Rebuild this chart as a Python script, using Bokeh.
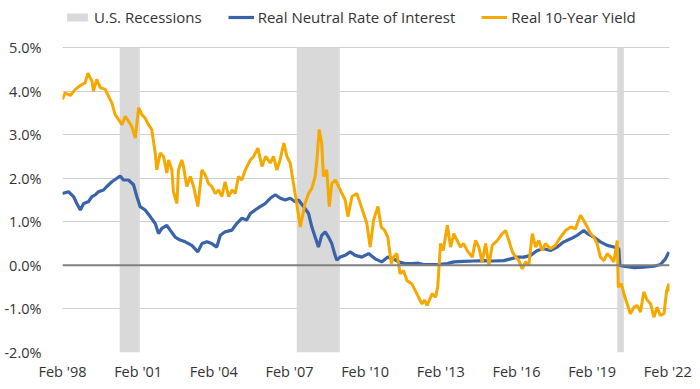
from bokeh.plotting import figure
from bokeh.models import (Range1d, FixedTicker, PrintfTickFormatter, Legend, LegendItem, Span)
from bokeh.embed import file_html
from bokeh.resources import INLINE

# ---- data (x in decimal years) ----
rec_start = [2000.35, 2007.37, 2020.08]
rec_end = [2001.15, 2009.08, 2020.34]

neutral_x = [1998.08, 1998.32, 1998.52, 1998.65, 1998.79, 1998.92, 1999.11, 1999.25, 1999.38, 1999.51,
             1999.71, 1999.84, 2000.04, 2000.24, 2000.37, 2000.50, 2000.70, 2000.90, 2001.03, 2001.16,
             2001.36, 2001.56, 2001.76, 2001.89, 2002.02, 2002.22, 2002.35, 2002.55, 2002.75, 2002.95,
             2003.21, 2003.45, 2003.61, 2003.81, 2004.00, 2004.20, 2004.34, 2004.53, 2004.80, 2004.99,
             2005.19, 2005.39, 2005.53, 2005.72, 2005.92, 2006.12, 2006.32, 2006.52, 2006.72, 2006.91,
             2007.11, 2007.31, 2007.44, 2007.64, 2007.84, 2007.97, 2008.10, 2008.23, 2008.36, 2008.50,
             2008.63, 2008.76, 2008.87, 2008.96, 2009.09, 2009.29, 2009.49, 2009.69, 2009.95, 2010.22,
             2010.48, 2010.74, 2010.98, 2011.21, 2011.41, 2011.67, 2011.93, 2012.20, 2012.40, 2012.54,
             2012.94, 2013.34, 2013.60, 2013.99, 2014.39, 2014.79, 2015.18, 2015.58, 2015.85, 2016.11,
             2016.38, 2016.64, 2016.91, 2017.17, 2017.43, 2017.70, 2017.96, 2018.23, 2018.49, 2018.75,
             2018.89, 2019.15, 2019.41, 2019.68, 2019.94, 2020.14, 2020.18, 2020.34, 2020.74, 2021.13,
             2021.53, 2021.79, 2021.99, 2022.13]
neutral_y = [1.65, 1.69, 1.58, 1.42, 1.27, 1.42, 1.46, 1.58, 1.62, 1.69,
             1.73, 1.81, 1.92, 2.00, 2.05, 1.96, 1.96, 1.85, 1.58, 1.35,
             1.27, 1.12, 0.96, 0.73, 0.85, 0.92, 0.81, 0.65, 0.58, 0.54,
             0.46, 0.31, 0.50, 0.54, 0.50, 0.42, 0.69, 0.77, 0.81, 0.96,
             1.08, 1.04, 1.19, 1.27, 1.35, 1.42, 1.54, 1.62, 1.54, 1.50,
             1.54, 1.46, 1.50, 1.35, 1.19, 0.88, 0.65, 0.42, 0.69, 0.77,
             0.65, 0.50, 0.27, 0.12, 0.19, 0.23, 0.31, 0.23, 0.19, 0.27,
             0.15, 0.08, 0.19, 0.15, 0.08, 0.04, 0.04, 0.05, 0.02, 0.02,
             0.02, 0.04, 0.08, 0.09, 0.10, 0.11, 0.10, 0.11, 0.15, 0.19,
             0.19, 0.23, 0.34, 0.38, 0.34, 0.42, 0.54, 0.61, 0.69, 0.80,
             0.73, 0.65, 0.54, 0.46, 0.42, 0.38, 0.00, -0.02, -0.05, -0.04,
             -0.02, 0.02, 0.15, 0.31]

yield_x = [1998.08, 1998.19, 1998.39, 1998.59, 1998.85, 1998.98, 1999.09, 1999.25, 1999.31, 1999.44,
           1999.58, 1999.78, 1999.91, 2000.04, 2000.17, 2000.30, 2000.44, 2000.57, 2000.70, 2000.83,
           2000.97, 2001.10, 2001.23, 2001.36, 2001.49, 2001.62, 2001.76, 2001.82, 2001.96, 2002.09,
           2002.22, 2002.29, 2002.42, 2002.48, 2002.62, 2002.68, 2002.81, 2002.88, 2003.01, 2003.15,
           2003.28, 2003.45, 2003.61, 2003.74, 2003.87, 2004.00, 2004.14, 2004.27, 2004.40, 2004.53,
           2004.67, 2004.80, 2004.93, 2005.06, 2005.19, 2005.33, 2005.53, 2005.66, 2005.83, 2005.99,
           2006.14, 2006.32, 2006.45, 2006.58, 2006.71, 2006.86, 2006.98, 2007.11, 2007.24, 2007.37,
           2007.51, 2007.70, 2007.84, 2007.97, 2008.10, 2008.17, 2008.26, 2008.36, 2008.43, 2008.56,
           2008.66, 2008.76, 2008.90, 2009.03, 2009.16, 2009.29, 2009.40, 2009.56, 2009.75, 2009.89,
           2010.02, 2010.15, 2010.28, 2010.42, 2010.59, 2010.72, 2010.85, 2010.98, 2011.12, 2011.21,
           2011.34, 2011.47, 2011.60, 2011.74, 2011.93, 2012.07, 2012.20, 2012.33, 2012.44, 2012.54,
           2012.74, 2012.87, 2012.96, 2013.07, 2013.18, 2013.34, 2013.47, 2013.60, 2013.73, 2013.86,
           2013.99, 2014.13, 2014.33, 2014.46, 2014.59, 2014.72, 2014.86, 2014.99, 2015.12, 2015.32,
           2015.52, 2015.65, 2015.78, 2015.92, 2016.05, 2016.18, 2016.31, 2016.44, 2016.57, 2016.71,
           2016.84, 2016.97, 2017.10, 2017.23, 2017.43, 2017.63, 2017.83, 2018.03, 2018.23, 2018.42,
           2018.62, 2018.75, 2018.89, 2019.02, 2019.15, 2019.28, 2019.41, 2019.55, 2019.68, 2019.81,
           2019.94, 2020.08, 2020.12, 2020.24, 2020.34, 2020.47, 2020.60, 2020.74, 2020.87, 2021.00,
           2021.13, 2021.27, 2021.40, 2021.53, 2021.66, 2021.79, 2021.93, 2022.04, 2022.13, 2022.16]
yield_y = [3.81, 3.96, 3.90, 4.04, 4.15, 4.19, 4.41, 4.23, 4.00, 4.27,
           4.08, 4.04, 3.88, 3.73, 3.46, 3.35, 3.23, 3.42, 3.31, 3.19,
           2.92, 3.62, 3.46, 3.38, 3.23, 3.12, 2.58, 2.19, 2.58, 2.50,
           2.12, 2.42, 2.19, 1.69, 1.42, 2.19, 2.42, 2.27, 1.81, 2.04,
           1.81, 1.35, 2.19, 2.08, 1.88, 1.81, 1.65, 1.73, 1.58, 1.92,
           1.58, 1.73, 1.65, 2.04, 1.96, 2.19, 2.42, 2.50, 2.69, 2.27,
           2.50, 2.35, 2.50, 2.19, 2.42, 2.81, 2.50, 2.35, 1.88, 1.42,
           0.88, 1.42, 1.65, 1.77, 2.04, 2.42, 3.12, 2.81, 2.04, 2.19,
           1.35, 1.88, 1.96, 1.81, 1.65, 1.50, 1.12, 1.58, 1.65, 1.42,
           1.19, 0.96, 0.42, 1.04, 1.35, 0.88, 0.81, 0.65, 0.04, 0.19,
           0.27, -0.19, -0.12, -0.35, -0.42, -0.58, -0.73, -0.88, -0.80, -0.92,
           -0.65, -0.73, -0.50, 0.50, 0.34, 0.92, 0.42, 0.73, 0.57, 0.42,
           0.50, 0.34, 0.19, 0.57, 0.42, 0.08, 0.50, 0.00, 0.46, 0.57,
           0.73, 0.80, 0.57, 0.31, 0.19, 0.11, -0.08, 0.08, 0.00, 0.73,
           0.42, 0.57, 0.34, 0.50, 0.38, 0.46, 0.65, 0.80, 0.88, 0.84,
           1.15, 1.03, 0.88, 0.73, 0.65, 0.50, 0.19, 0.11, 0.27, 0.19,
           0.08, 0.57, -0.50, -0.42, -0.65, -0.88, -1.11, -0.96, -0.92, -1.07,
           -0.61, -0.80, -0.88, -1.19, -0.96, -1.15, -1.11, -0.57, -0.42, -0.60]

x_ticks = [1998.083 + 3 * i for i in range(9)]
x_labels = ["Feb '98", "Feb '01", "Feb '04", "Feb '07", "Feb '10", "Feb '13", "Feb '16", "Feb '19", "Feb '22"]
y_ticks = [-2, -1, 0, 1, 2, 3, 4, 5]

FONT = "Open Sans"
TXT = "#333333"
BLUE = "#3b63a8"
ORANGE = "#f5a800"
REC = "#d9d9d9"

# frame spans the full height so the legend can sit inside it above the 5% line
p = figure(width=700, height=389, output_backend="svg", toolbar_location=None,
           x_range=Range1d(1998.083, 2022.15), y_range=Range1d(-2, 6.08),
           min_border_left=62, min_border_right=31, min_border_top=0, min_border_bottom=37)
p.outline_line_color = None
p.background_fill_color = "white"
p.border_fill_color = "white"

rec = p.quad(left=rec_start, right=rec_end, bottom=min(y_ticks), top=max(y_ticks),
             fill_color=REC, line_color=None)
zero = Span(location=0, dimension="width", line_color="#808080", line_width=2)
p.add_layout(zero)
blue = p.line(neutral_x, neutral_y, line_color=BLUE, line_width=3.2)
orange = p.line(yield_x, yield_y, line_color=ORANGE, line_width=3)

p.xaxis.ticker = FixedTicker(ticks=x_ticks)
p.xaxis.major_label_overrides = {t: l for t, l in zip(x_ticks, x_labels)}
p.yaxis.ticker = FixedTicker(ticks=y_ticks)
p.yaxis.formatter = PrintfTickFormatter(format="%.1f%%")
for ax in (p.xaxis[0], p.yaxis[0]):
    ax.axis_line_color = None
    ax.major_tick_line_color = None
    ax.minor_tick_line_color = None
    ax.major_label_text_font = FONT
    ax.major_label_text_font_size = "14.5px"
    ax.major_label_text_color = TXT
p.xaxis.major_label_standoff = 3
p.yaxis.major_label_standoff = 15
p.xgrid.grid_line_color = None
p.ygrid.ticker = FixedTicker(ticks=y_ticks)
p.ygrid.grid_line_color = "#cfcfcf"
p.ygrid.grid_line_width = 1

legend = Legend(items=[LegendItem(label="U.S. Recessions", renderers=[rec]),
                       LegendItem(label="Real Neutral Rate of Interest", renderers=[blue]),
                       LegendItem(label="Real 10-Year Yield", renderers=[orange])],
                orientation="horizontal", location=(2, 325))
legend.glyph_width = 26
legend.glyph_height = 10
legend.label_standoff = 4
legend.spacing = 26
legend.margin = 0
legend.padding = 0
legend.border_line_color = None
legend.background_fill_alpha = 0
legend.label_text_font = FONT
legend.label_text_font_size = "15px"
legend.label_text_color = TXT
legend.label_height = 20
p.add_layout(legend, "center")

open("out.html", "w").write(file_html(p, INLINE))
